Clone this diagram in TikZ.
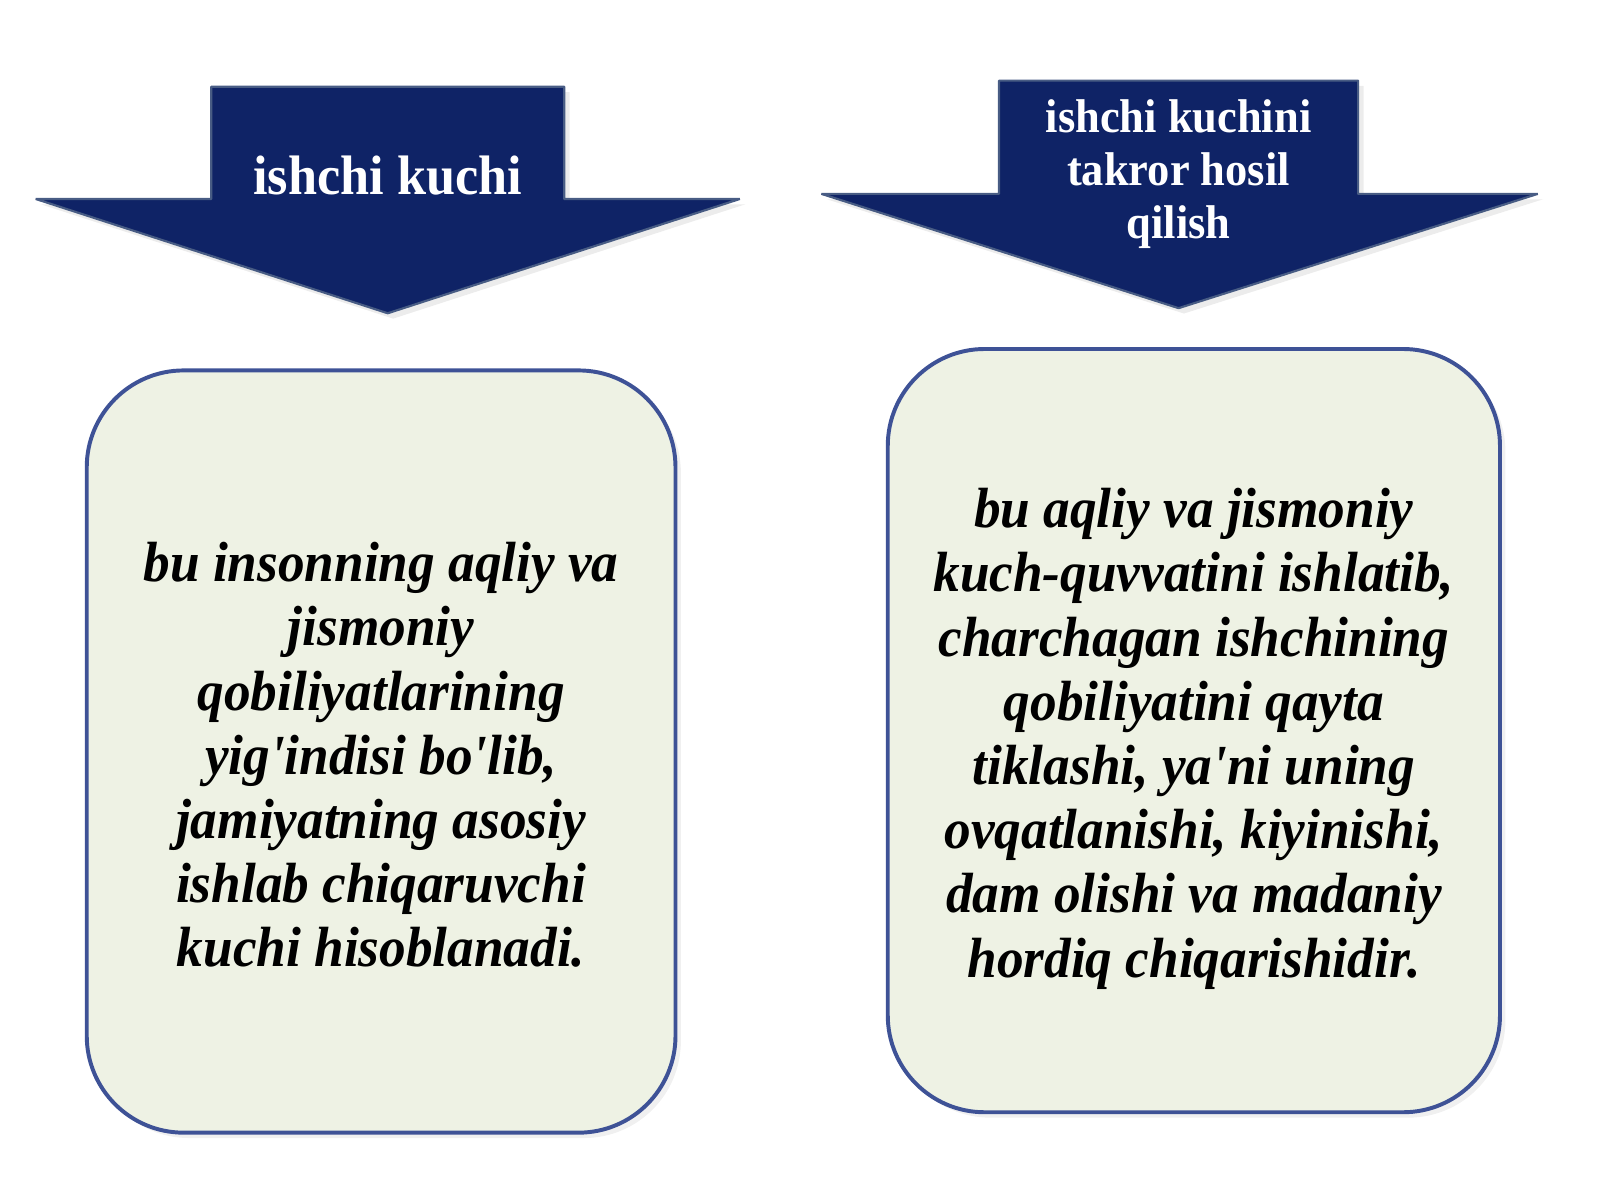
\documentclass[tikz,border=0pt]{standalone}
\usepackage{fontspec}
\setmainfont{Liberation Serif}
\newfontfamily\slidefont[FakeStretch=0.94]{Liberation Serif}
\usetikzlibrary{shadows}
\definecolor{arrowblue}{RGB}{15,35,102}
\definecolor{arrowedge}{RGB}{72,92,132}
\definecolor{boxfill}{RGB}{238,242,228}
\definecolor{boxedge}{RGB}{62,82,150}

\begin{document}
\begin{tikzpicture}[x=0.1mm, y=-0.1mm,
    arrowshape/.style={fill=arrowblue, draw=arrowedge, line width=0.6pt, line join=bevel,
        drop shadow={shadow xshift=1.5pt, shadow yshift=-1.5pt, opacity=0.15}},
    head/.style 2 args={text=white, align=center,
        font=\slidefont\bfseries\fontsize{#1}{#2}\selectfont},
    defbox/.style={draw=boxedge, fill=boxfill, line width=1.1pt,
        rounded corners=0.95cm,
        drop shadow={shadow xshift=1.5pt, shadow yshift=-1.5pt, opacity=0.12}},
    deftext/.style={align=center,
        font=\slidefont\bfseries\itshape\fontsize{15.8}{17.9}\selectfont}]
    \useasboundingbox (0,0) rectangle (1568,1176);

    % arrows on top
    \draw[arrowshape] (207,85) -- (553,85) -- (553,195) -- (725,195)
        -- (380,307) -- (35,195) -- (207,195) -- cycle;
    \draw[arrowshape] (979,79) -- (1331,79) -- (1331,190) -- (1507,190)
        -- (1155,302) -- (805,190) -- (979,190) -- cycle;

    \node[head={15.5}{17.4}] (work) at (380,172) {ishchi kuchi};
    \node[head={13.2}{14.8}] (renewal) at (1155,171) {ishchi kuchini\\takror hosil\\qilish};

    % definition boxes
    \node[defbox, minimum width=5.77cm, minimum height=7.47cm] (workbox) at (373.5,736.5) {};
    \node[defbox, minimum width=6cm, minimum height=7.48cm] (renewalbox) at (1170,716) {};

    \node[deftext] (workdef) at (373.5,740)
        {bu insonning aqliy va\\jismoniy\\qobiliyatlarining\\yig'indisi bo'lib,\\jamiyatning asosiy\\ishlab chiqaruvchi\\kuchi hisoblanadi.};
    \node[deftext] (renewaldef) at (1170,724)
        {bu aqliy va jismoniy\\kuch-quvvatini ishlatib,\\charchagan ishchining\\qobiliyatini qayta\\tiklashi, ya'ni uning\\ovqatlanishi, kiyinishi,\\dam olishi va madaniy\\hordiq chiqarishidir.};
\end{tikzpicture}
\end{document}
